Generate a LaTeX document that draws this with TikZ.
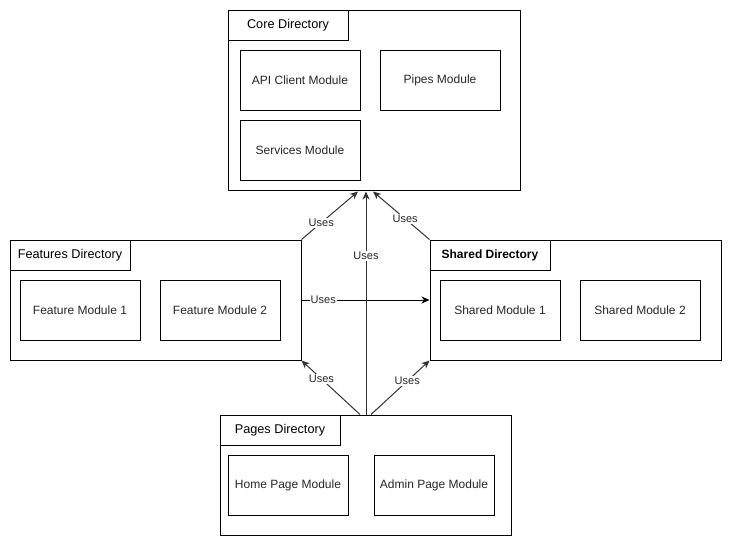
\documentclass[tikz,border=0pt]{standalone}
\usepackage{fontspec}
\setmainfont{Liberation Sans}
\usetikzlibrary{arrows.meta,calc}
\begin{document}
\begin{tikzpicture}[x=1pt,y=-1pt,
  dirbox/.style={draw=black,line width=1pt,minimum width=291pt,minimum height=120pt,inner sep=0pt},
  tabbox/.style={draw=black,line width=1pt,minimum width=120pt,minimum height=30pt,inner sep=0pt,font=\fontsize{12.7}{15}\selectfont},
  modbox/.style={draw=black,line width=1pt,minimum width=120pt,minimum height=60pt,inner sep=0pt,text=black!85,font=\fontsize{12}{14}\selectfont},
  uses/.style={line width=1pt,draw=black!80,-{Stealth[length=8pt,width=7pt,inset=2.5pt]}},
  lbl/.style={fill=white,inner sep=1pt,text=black!85,font=\fontsize{11}{13}\selectfont}]
\useasboundingbox (0,0) rectangle (733,547);
% Core
\node[dirbox,minimum width=292pt,minimum height=180pt] (core) at (374,100) {};
\node[tabbox] (coretab) at (288,25) {Core Directory};
\node[modbox] (api) at (300,80) {API Client Module};
\node[modbox] (pipes) at (440,80) {Pipes Module};
\node[modbox] (services) at (300,150) {Services Module};
% Features
\node[dirbox] (feat) at (155.5,300) {};
\node[tabbox] (feattab) at (70,255) {Features Directory};
\node[modbox] (fm1) at (80,310) {Feature Module 1};
\node[modbox] (fm2) at (220,310) {Feature Module 2};
% Shared
\node[dirbox] (shared) at (575.5,300) {};
\node[tabbox,font=\fontsize{12}{14}\selectfont\bfseries] (sharedtab) at (490,255) {Shared Directory};
\node[modbox] (sm1) at (500,310) {Shared Module 1};
\node[modbox] (sm2) at (640,310) {Shared Module 2};
% Pages
\node[dirbox] (pages) at (365.5,475) {};
\node[tabbox] (pagestab) at (280,430) {Pages Directory};
\node[modbox] (home) at (288,485) {Home Page Module};
\node[modbox] (admin) at (434,485) {Admin Page Module};
% endpoints
\coordinate (c1) at ($(core.south)+(-16,1)$);
\coordinate (c2) at ($(core.south)+(-8,1)$);
\coordinate (c3) at ($(core.south)+(-1,1)$);
\coordinate (p1) at ($(pages.north)+(-5.5,0)$);
\coordinate (p2) at ($(pages.north)+(0.5,0)$);
\coordinate (p3) at ($(pages.north)+(5.5,0)$);
% connectors
\draw[uses] (feat.north east) -- node[lbl,pos=0.35] {Uses} (c1);
\draw[uses] (shared.north west) -- node[lbl,pos=0.43] {Uses} (c3);
\draw[uses] (p2) -- node[lbl,pos=0.71] {Uses} (c2);
\draw[uses] (p1) -- node[lbl,pos=0.66] {Uses} (feat.south east);
\draw[uses] (p3) -- node[lbl,pos=0.62] {Uses} (shared.south west);
\draw[uses,draw=black] (feat.east) -- node[lbl,pos=0.17] {Uses} (shared.west);
\end{tikzpicture}
\end{document}
